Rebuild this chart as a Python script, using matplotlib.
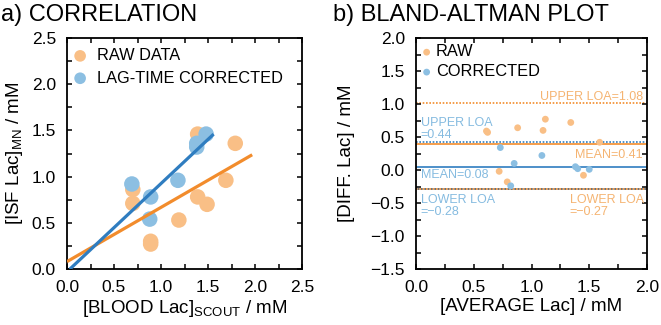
import matplotlib
matplotlib.use("Agg")
import matplotlib.pyplot as plt
import numpy as np
from matplotlib.ticker import MultipleLocator, FormatStrFormatter, FuncFormatter

plt.rcParams['font.family'] = ['Liberation Sans', 'DejaVu Sans']
plt.rcParams['mathtext.fontset'] = 'custom'
plt.rcParams['mathtext.rm'] = 'Liberation Sans'
plt.rcParams['mathtext.it'] = 'Liberation Sans'
plt.rcParams['axes.unicode_minus'] = True

# ---- data: correlation ----
raw_blood = [0.70, 0.70, 0.89, 0.89, 1.19, 1.39, 1.39, 1.49, 1.69, 1.79]
raw_isf = [0.86, 0.71, 0.30, 0.27, 0.53, 1.46, 0.78, 0.70, 0.96, 1.36]
cor_blood = [0.69, 0.89, 0.88, 1.18, 1.38, 1.38, 1.48]
cor_isf = [0.92, 0.78, 0.54, 0.96, 1.36, 1.32, 1.46]
raw_fit = [0.587, 0.08]      # slope, intercept
raw_fit_range = [0.0, 1.97]
cor_fit = [0.955, -0.03]
cor_fit_range = [0.03, 1.56]

# ---- data: Bland-Altman ----
raw_avg = [0.61, 0.62, 0.88, 1.10, 1.12, 1.34, 1.59, 0.72, 0.79, 1.45]
raw_diff = [0.59, 0.57, 0.64, 0.60, 0.77, 0.72, 0.42, -0.02, -0.18, -0.08]
cor_avg = [0.73, 0.85, 1.09, 1.38, 1.40, 1.50, 0.82]
cor_diff = [0.34, 0.10, 0.22, 0.05, 0.02, 0.01, -0.24]
raw_lines = [1.02, 0.39, -0.29]   # upper LOA, mean, lower LOA
cor_lines = [0.43, 0.05, -0.29]

ORG_PT = '#F9BF86'
ORG_LN = '#F28C2C'
BLU_PT = '#8CBFE2'
BLU_LN = '#2F7DC0'
ORG_TX = '#F5B472'
BLU_TX = '#85BBE0'

TICK_FS = 12.5
LAB_FS = 13.5
LEG_FS = 11.8
TITLE_FS = 17

fig = plt.figure(figsize=(6.61, 3.25), dpi=100)
ax1 = fig.add_axes([67/661, 56/325, 235/661, 231/325])
ax2 = fig.add_axes([416/661, 56/325, 231/661, 231/325])

for ax in (ax1, ax2):
    for s in ax.spines.values():
        s.set_linewidth(1.3)
    ax.tick_params(which='both', direction='in', top=True, right=True,
                   length=3.5, width=1.1, labelsize=TICK_FS)
    ax.tick_params(axis='x', which='both', pad=8)
    ax.tick_params(axis='y', which='both', pad=8)

# ---- panel a ----
ax1.scatter(raw_blood, raw_isf, s=125, color=ORG_PT, edgecolors='none',
            label='RAW DATA', zorder=2)
ax1.scatter(cor_blood, cor_isf, s=125, color=BLU_PT, edgecolors='none',
            label='LAG-TIME CORRECTED', zorder=3)
xr = np.array(raw_fit_range)
ax1.plot(xr, raw_fit[0]*xr + raw_fit[1], color=ORG_LN, lw=2.3, zorder=4,
         solid_capstyle='butt')
xc = np.array(cor_fit_range)
ax1.plot(xc, cor_fit[0]*xc + cor_fit[1], color=BLU_LN, lw=2.3, zorder=4,
         solid_capstyle='butt')
ax1.set_xlim(0, 2.5)
ax1.set_ylim(0, 2.5)
ax1.xaxis.set_major_locator(MultipleLocator(0.5))
ax1.yaxis.set_major_locator(MultipleLocator(0.5))
ax1.xaxis.set_minor_locator(MultipleLocator(0.25))
ax1.yaxis.set_minor_locator(MultipleLocator(0.25))
ax1.xaxis.set_major_formatter(FormatStrFormatter('%.1f'))
ax1.yaxis.set_major_formatter(FormatStrFormatter('%.1f'))
ax1.set_xlabel(r'[BLOOD Lac]$_{\mathrm{SCOUT}}$ / mM', fontsize=LAB_FS)
ax1.set_ylabel(r'[ISF Lac]$_{\mathrm{MN}}$ / mM', fontsize=LAB_FS)
ax1.xaxis.set_label_coords(0.5, -0.125)
ax1.yaxis.set_label_coords(-0.18, 0.5)
ax1.legend(loc='upper left', bbox_to_anchor=(0.007, 0.963), frameon=False,
           fontsize=LEG_FS, handletextpad=0.45, borderaxespad=0.0, borderpad=0.1,
           labelspacing=0.45, markerscale=0.75, handlelength=1.2)
fig.text(1/661, 1 - 21/325, 'a) CORRELATION', fontsize=TITLE_FS, ha='left', va='baseline')

# ---- panel b ----
ax2.scatter(raw_avg, raw_diff, s=24, color=ORG_PT, edgecolors='none',
            label='RAW', zorder=3)
ax2.scatter(cor_avg, cor_diff, s=24, color=BLU_PT, edgecolors='none',
            label='CORRECTED', zorder=3)
ax2.axhline(raw_lines[0], color=ORG_LN, lw=1.2, ls=(0, (1, 1)), zorder=1)
ax2.axhline(raw_lines[1], color=ORG_LN, lw=1.2, zorder=1)
ax2.axhline(raw_lines[2], color=ORG_LN, lw=1.2, ls=(0, (1, 1)), zorder=1)
ax2.axhline(cor_lines[0], color=BLU_LN, lw=1.2, ls=(0, (1, 1)), zorder=1)
ax2.axhline(cor_lines[1], color=BLU_LN, lw=1.2, zorder=1)
ax2.axhline(cor_lines[2], color='#555555', lw=1.2, ls=(1, (1, 1)), zorder=1)
ax2.set_xlim(0, 2.0)
ax2.set_ylim(-1.5, 2.0)
ax2.xaxis.set_major_locator(MultipleLocator(0.5))
ax2.yaxis.set_major_locator(MultipleLocator(0.5))
ax2.xaxis.set_minor_locator(MultipleLocator(0.25))
ax2.yaxis.set_minor_locator(MultipleLocator(0.25))
ax2.xaxis.set_major_formatter(FormatStrFormatter('%.1f'))
ax2.yaxis.set_major_formatter(FuncFormatter(
    lambda v, p: ('%.1f' % v).replace('-', '\u2212')))
ax2.set_xlabel('[AVERAGE Lac] / mM', fontsize=LAB_FS)
ax2.set_ylabel('[DIFF. Lac] / mM', fontsize=LAB_FS)
ax2.xaxis.set_label_coords(0.5, -0.125)
ax2.yaxis.set_label_coords(-0.265, 0.5)
ax2.legend(loc='upper left', bbox_to_anchor=(0.0035, 0.979), frameon=False,
           fontsize=LEG_FS, handletextpad=0.05, borderaxespad=0.0, borderpad=0.1,
           labelspacing=0.3, markerscale=1.0, handlelength=1.0)
fig.text(333/661, 1 - 21/325, 'b) BLAND-ALTMAN PLOT', fontsize=TITLE_FS, ha='left', va='baseline')

afs = 9
ax2.text(1.965, 1.10, 'UPPER LOA=1.08', color=ORG_TX, fontsize=afs, ha='right', va='center')
ax2.text(0.04, 0.62, 'UPPER LOA\n=0.44', color=BLU_TX, fontsize=afs, ha='left', va='center',
         linespacing=1.0)
ax2.text(1.965, 0.23, 'MEAN=0.41', color=ORG_TX, fontsize=afs, ha='right', va='center')
ax2.text(0.04, -0.07, 'MEAN=0.08', color=BLU_TX, fontsize=afs, ha='left', va='center')
ax2.text(0.04, -0.54, 'LOWER LOA\n=\u22120.28', color=BLU_TX, fontsize=afs, ha='left',
         va='center', linespacing=1.0)
ax2.text(1.33, -0.54, 'LOWER LOA\n=\u22120.27', color=ORG_TX, fontsize=afs, ha='left',
         va='center', linespacing=1.0)

fig.savefig('out.png', dpi=100)
